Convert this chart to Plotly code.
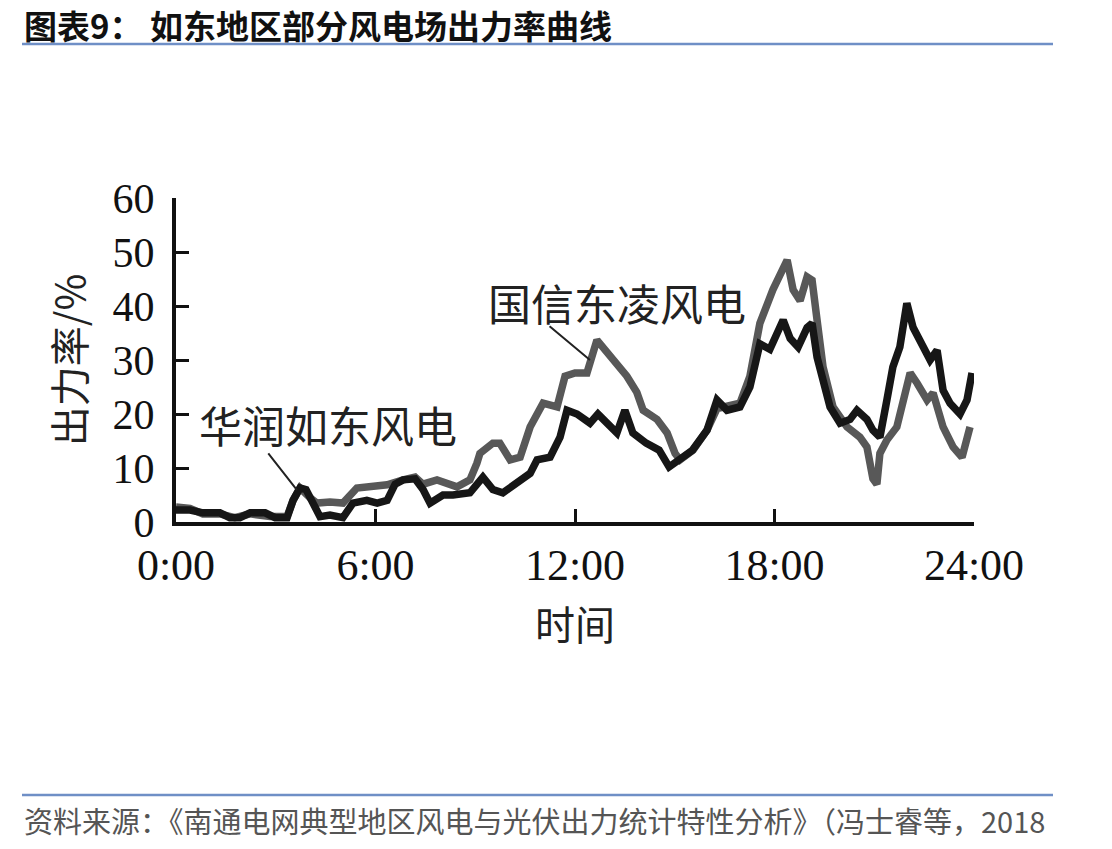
import plotly.graph_objects as go

# ---- data (hours, output rate %) ----
huarun_hours = [0.00, 0.42, 0.81, 1.32, 1.62, 1.92, 2.23, 2.68, 2.98, 3.34, 3.52, 3.73, 3.91, 4.12,
                4.33, 4.63, 5.02, 5.32, 5.74, 6.05, 6.35, 6.59, 6.83, 7.19, 7.43, 7.64, 8.03, 8.33,
                8.84, 9.23, 9.53, 9.83, 10.35, 10.65, 10.86, 11.25, 11.55, 11.76, 12.06, 12.45, 12.69,
                13.05, 13.26, 13.50, 13.74, 14.14, 14.53, 14.83, 15.14, 15.53, 15.97, 16.27, 16.57,
                16.96, 17.26, 17.47, 17.56, 17.86, 18.26, 18.47, 18.71, 18.98, 19.13, 19.28, 19.46,
                19.67, 19.97, 20.27, 20.48, 20.78, 20.96, 21.17, 21.38, 21.56, 21.77, 21.98, 22.17,
                22.38, 22.68, 22.89, 23.07, 23.28, 23.58, 23.79, 23.94]
huarun_rate = [2.2, 2.2, 1.7, 1.7, 0.8, 0.8, 1.7, 1.7, 0.8, 0.8, 4.0, 6.3, 6.0, 3.5,
               1.0, 1.3, 0.8, 3.5, 4.0, 3.5, 4.0, 7.0, 7.8, 8.0, 6.0, 3.5, 5.0, 5.0,
               5.4, 8.3, 6.0, 5.4, 7.8, 9.0, 11.5, 12.0, 15.7, 20.7, 20.0, 18.3, 20.0,
               17.6, 16.5, 20.7, 16.5, 14.6, 13.3, 10.2, 11.5, 13.3, 17.0, 22.6, 20.7,
               21.3, 25.0, 31.0, 33.0, 32.0, 37.4, 34.0, 32.4, 36.0, 36.8, 30.5, 26.0,
               21.3, 18.3, 19.0, 20.7, 19.0, 17.0, 15.7, 22.6, 28.7, 32.4, 40.5, 36.0,
               33.7, 30.0, 31.8, 24.4, 22.0, 20.0, 22.6, 27.6]

guoxin_hours = [0.00, 0.42, 0.81, 1.32, 1.77, 2.23, 2.83, 3.34, 3.52, 3.73, 4.03, 4.24, 4.63, 5.02,
                5.44, 5.83, 6.35, 6.83, 7.19, 7.43, 7.85, 8.45, 8.84, 9.05, 9.14, 9.53, 9.74, 10.05,
                10.35, 10.65, 11.04, 11.46, 11.70, 12.00, 12.36, 12.66, 13.05, 13.56, 13.86, 14.05,
                14.47, 14.77, 15.01, 15.16, 15.55, 15.97, 16.27, 16.57, 16.96, 17.26, 17.56, 17.95,
                18.38, 18.56, 18.77, 18.98, 19.13, 19.28, 19.46, 19.76, 20.18, 20.57, 20.78, 20.96,
                21.08, 21.17, 21.38, 21.68, 21.86, 22.08, 22.29, 22.59, 22.77, 23.07, 23.37, 23.64,
                23.88]
guoxin_rate = [2.8, 2.5, 1.5, 1.5, 0.8, 1.5, 1.0, 1.0, 4.0, 6.3, 4.5, 3.5, 3.7, 3.5,
               6.3, 6.5, 6.9, 7.8, 8.3, 7.0, 7.8, 6.5, 7.8, 10.9, 12.7, 14.6, 14.6, 11.5,
               12.0, 17.6, 22.0, 21.3, 27.0, 27.6, 27.6, 33.7, 30.6, 27.0, 24.0, 20.7,
               19.0, 16.5, 12.7, 11.5, 13.3, 17.0, 21.0, 21.5, 22.0, 27.0, 36.8, 43.0,
               48.5, 43.0, 41.0, 45.4, 44.8, 37.4, 28.7, 21.3, 17.6, 15.7, 13.9, 8.0,
               7.0, 12.7, 15.2, 17.6, 22.6, 27.6, 25.7, 22.6, 23.9, 17.6, 13.9, 12.0,
               17.6]

x_tick_vals = [0, 6, 12, 18, 24]
x_tick_text = ["0:00", "6:00", "12:00", "18:00", "24:00"]
y_tick_vals = [0, 10, 20, 30, 40, 50, 60]

series_names = ["国信东凌风电", "华润如东风电"]

title_text = "图表9： 如东地区部分风电场出力率曲线"
source_text = "资料来源：《南通电网典型地区风电与光伏出力统计特性分析》（冯士睿等，2018"

# ---- layout geometry ----
W, H = 1112, 849
L, R, T, B = 176, 974, 198, 522


def px(x):
    return (x - L) / (R - L)


def py(y):
    return (B - y) / (B - T)


CJK = "Noto Sans CJK SC"
SERIF = "Liberation Serif"

fig = go.Figure()
fig.add_trace(go.Scatter(x=guoxin_hours, y=guoxin_rate, mode="lines", name=series_names[0],
                         line=dict(color="#585858", width=7.5), showlegend=False))
fig.add_trace(go.Scatter(x=huarun_hours, y=huarun_rate, mode="lines", name=series_names[1],
                         line=dict(color="#161616", width=7.5), showlegend=False))

annotations = [
    # series labels with leader lines
    dict(x=12.45, y=30, xref="x", yref="y", ax=11.19, ay=36.5, axref="x", ayref="y",
         showarrow=True, arrowhead=0, arrowwidth=2, arrowcolor="#222", text=""),
    dict(x=13.26, y=40.7, xref="x", yref="y", text=series_names[0], showarrow=False,
         font=dict(family=CJK, size=43, color="#222")),
    dict(x=3.64, y=5.9, xref="x", yref="y", ax=2.74, ay=13, axref="x", ayref="y",
         showarrow=True, arrowhead=0, arrowwidth=2, arrowcolor="#222", text=""),
    dict(x=4.57, y=18.1, xref="x", yref="y", text=series_names[1], showarrow=False,
         font=dict(family=CJK, size=43, color="#222")),
    # title
    dict(x=px(22), y=py(25), xref="paper", yref="paper", xanchor="left", yanchor="middle",
         text="<b>" + title_text + "</b>", showarrow=False,
         font=dict(family=CJK, size=33, color="#111")),
    # source
    dict(x=px(22), y=py(820), xref="paper", yref="paper", xanchor="left", yanchor="middle",
         text=source_text, showarrow=False,
         font=dict(family=CJK, size=29, color="#555")),
]

shapes = [
    dict(type="line", xref="paper", yref="paper", x0=px(22), x1=px(1053), y0=py(44), y1=py(44),
         line=dict(color="#6f8fc6", width=2.5)),
    dict(type="line", xref="paper", yref="paper", x0=px(22), x1=px(1053), y0=py(795), y1=py(795),
         line=dict(color="#6f8fc6", width=2.5)),
]

fig.update_layout(
    width=W, height=H,
    margin=dict(l=L, r=W - R, t=T, b=H - B, pad=0),
    paper_bgcolor="white", plot_bgcolor="white",
    annotations=annotations, shapes=shapes,
    xaxis=dict(range=[0, 24], tickvals=x_tick_vals, ticktext=x_tick_text,
               ticks="inside", ticklen=13, tickwidth=3, tickcolor="#111",
               showline=True, linewidth=4, linecolor="#111", showgrid=False, zeroline=False,
               tickfont=dict(family=SERIF, size=44, color="#111"), ticklabelstandoff=1,
               title=dict(text="时间", font=dict(family=CJK, size=40, color="#222"), standoff=24)),
    yaxis=dict(range=[0, 60], tickvals=y_tick_vals,
               ticks="inside", ticklen=13, tickwidth=3, tickcolor="#111",
               showline=True, linewidth=4, linecolor="#111", showgrid=False, zeroline=False,
               tickfont=dict(family=SERIF, size=42, color="#111"), ticklabelstandoff=9,
               title=dict(text="出力率/%", font=dict(family=CJK, size=40, color="#222"), standoff=16)),
)

fig.write_html("out.html")
